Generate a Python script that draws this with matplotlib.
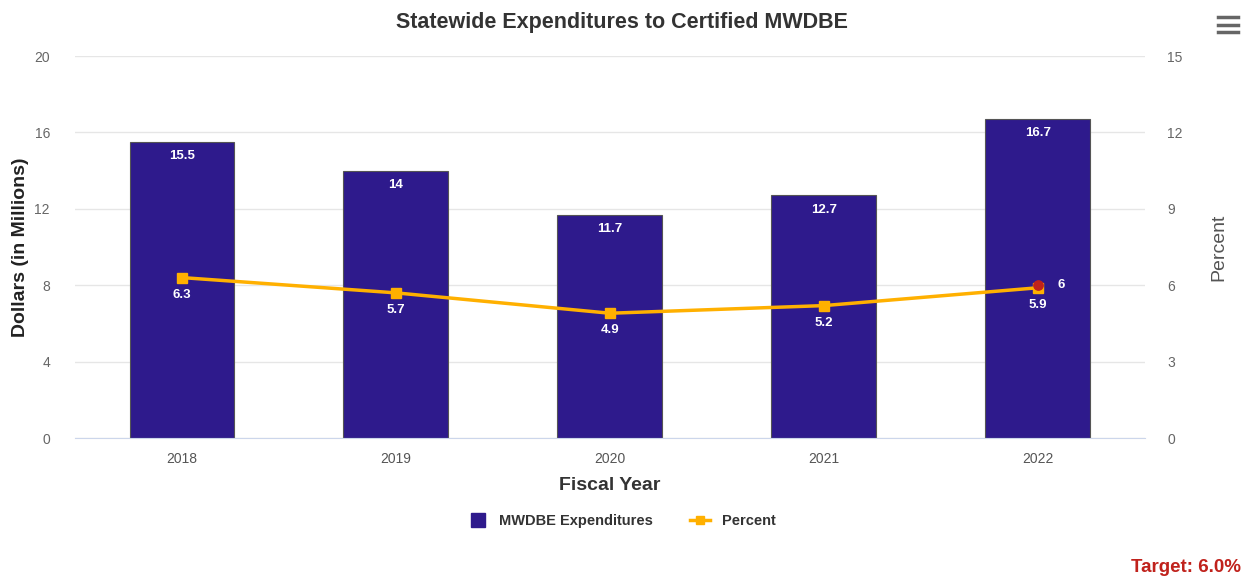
import matplotlib.pyplot as plt
from matplotlib.lines import Line2D

plt.rcParams['font.family'] = ['Liberation Sans', 'DejaVu Sans']

years = ['2018', '2019', '2020', '2021', '2022']
expenditures = [15.5, 14, 11.7, 12.7, 16.7]
percent = [6.3, 5.7, 4.9, 5.2, 5.9]
target = 6

bar_color = '#2e1a8c'
line_color = '#ffb000'
red = '#c0221c'

fig = plt.figure(figsize=(12.43, 5.84), dpi=100)
ax = fig.add_axes([0.0603, 0.25, 0.8607, 0.654])
ax2 = ax.twinx()

x = range(len(years))
ax.bar(x, expenditures, width=0.49, color=bar_color, edgecolor='#555555', linewidth=0.8, zorder=2)
for i, v in enumerate(expenditures):
    ax.annotate(f'{v:g}', (i, v), xytext=(0, -6), textcoords='offset points',
                ha='center', va='top', color='white', fontsize=9.5, fontweight='bold')

ax.set_xlim(-0.5, 4.5)
ax.set_ylim(0, 20)
ax.set_yticks([0, 4, 8, 12, 16, 20])
ax.set_xticks(list(x))
ax.set_xticklabels(years)
ax.grid(axis='y', color='#e6e6e6', linewidth=1, zorder=0)
ax.set_axisbelow(True)
for s in ['top', 'right', 'left']:
    ax.spines[s].set_visible(False)
ax.spines['bottom'].set_color('#ccd6eb')
ax.tick_params(axis='y', length=0, colors='#666666', labelsize=10, pad=18)
ax.tick_params(axis='x', length=0, colors='#555555', labelsize=10, pad=10)
ax.set_ylabel('Dollars (in Millions)', fontsize=14, fontweight='bold', color='#222222', labelpad=4)
ax.set_xlabel('Fiscal Year', fontsize=14, fontweight='bold', color='#333333', labelpad=8)

ax2.plot(list(x), percent, color=line_color, linewidth=2.5, marker='s', markersize=7, zorder=3)
for i, v in enumerate(percent):
    ax2.annotate(f'{v:g}', (i, v), xytext=(0, -8), textcoords='offset points',
                 ha='center', va='top', color='white', fontsize=9.5, fontweight='bold')
ax2.scatter([4], [target], color=red, s=45, zorder=4)
ax2.annotate(f'{target:g}', (4, target), xytext=(14, 0), textcoords='offset points',
             ha='left', va='center', color='white', fontsize=9.5, fontweight='bold')
ax2.set_ylim(0, 15)
ax2.set_yticks([0, 3, 6, 9, 12, 15])
for s in ax2.spines.values():
    s.set_visible(False)
ax2.tick_params(axis='y', length=0, colors='#666666', labelsize=10, pad=16)
ax2.set_ylabel('Percent', fontsize=14, color='#555555', labelpad=20)

fig.text(0.5, 0.962, 'Statewide Expenditures to Certified MWDBE', ha='center', va='center',
         fontsize=15.5, fontweight='bold', color='#333333')

handles = [Line2D([0], [0], color=bar_color, linestyle='none', marker='s', markersize=10),
           Line2D([0], [0], color=line_color, linewidth=2.5, marker='s', markersize=6)]
fig.legend(handles, ['MWDBE Expenditures', 'Percent'], loc='center', bbox_to_anchor=(0.5, 0.108),
           ncol=2, frameon=False, handlelength=1.4, columnspacing=2.5, labelcolor='#333333',
           prop={'weight': 'bold', 'size': 10.5})

fig.text(0.998, 0.013, 'Target: 6.0%', ha='right', va='bottom', fontsize=13.5,
         fontweight='bold', color=red)

# menu icon
for yy in [0.945, 0.958, 0.971]:
    fig.add_artist(Line2D([0.980, 0.996], [yy, yy], color='#666666', linewidth=2.5,
                          transform=fig.transFigure))

fig.savefig('out.png', dpi=100, facecolor='white')
